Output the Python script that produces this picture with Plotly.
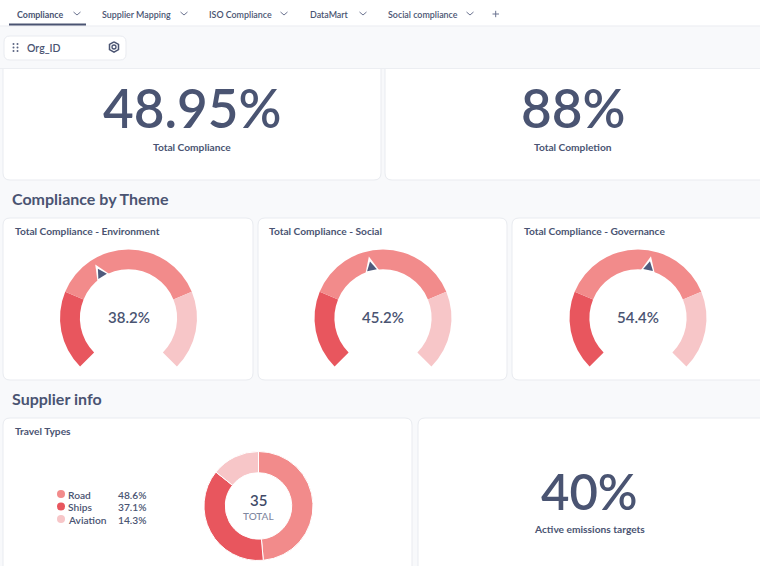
import math
import plotly.graph_objects as go

W, H = 760, 566
FONT = "Lato"
INK = "#4A5472"
DARK = "#E8565E"
MID = "#F28B8B"
LIGHT = "#F7C6C8"
BG = "#F8F9FB"

tabs = ["Compliance", "Supplier Mapping", "ISO Compliance", "DataMart", "Social compliance"]
kpi_values = ["48.95%", "88%"]
kpi_labels = ["Total Compliance", "Total Completion"]
gauge_titles = ["Total Compliance - Environment", "Total Compliance - Social", "Total Compliance - Governance"]
gauge_values = [38.2, 45.2, 54.4]
gauge_bands = [25, 50, 25]
travel_types = ["Road", "Ships", "Aviation"]
travel_shares = [48.6, 37.1, 14.3]
travel_total = 35
target_value = "40%"
target_label = "Active emissions targets"

fig = go.Figure()
shapes, ann = [], []


def card(x0, y0, x1, y1, r=7):
    path = (f"M{x0+r},{y0} L{x1-r},{y0} Q{x1},{y0} {x1},{y0+r} L{x1},{y1-r} Q{x1},{y1} {x1-r},{y1} "
            f"L{x0+r},{y1} Q{x0},{y1} {x0},{y1-r} L{x0},{y0+r} Q{x0},{y0} {x0+r},{y0} Z")
    shapes.append(dict(type="path", path=path, xref="x", yref="y", fillcolor="white",
                       line=dict(color="#E9EBF0", width=1), layer="below"))


def text(x, y, s, size, color=INK, anchor="left", weight=400):
    off = {"left": -2, "right": 2, "center": 0}[anchor]
    ann.append(dict(x=x + off, y=y, xref="x", yref="y", text=s, showarrow=False,
                    xanchor=anchor, yanchor="middle",
                    font=dict(family=FONT, size=size, color=color, weight=weight)))


def line(pts, color=INK, width=1.2):
    path = "M" + " L".join(f"{a},{b}" for a, b in pts)
    shapes.append(dict(type="path", path=path, xref="x", yref="y", line=dict(color=color, width=width), layer="above"))


def dom(cx, cy, r):
    return dict(x=[(cx - r) / W, (cx + r) / W], y=[1 - (cy + r) / H, 1 - (cy - r) / H])


# KPI cards (their tops are hidden by the filter strip)
card(3, 40, 381, 180)
card(385, 40, 790, 180)
shapes.append(dict(type="rect", x0=0, x1=W, y0=26, y1=68.5, xref="x", yref="y", fillcolor=BG, line=dict(width=0), layer="below"))
shapes.append(dict(type="line", x0=0, x1=W, y0=68.5, y1=68.5, xref="x", yref="y", line=dict(color="#ECEEF2", width=1), layer="below"))

# top bar
shapes.append(dict(type="rect", x0=0, x1=W, y0=0, y1=25.5, xref="x", yref="y", fillcolor="white",
                   line=dict(width=0), layer="below"))
shapes.append(dict(type="line", x0=0, x1=W, y0=26, y1=26, xref="x", yref="y", line=dict(color="#ECEEF2", width=1), layer="below"))
shapes.append(dict(type="line", x0=9, x1=86, y0=24.5, y1=24.5, xref="x", yref="y", line=dict(color=INK, width=2)))
tab_x = [17, 102, 209, 310, 388]
chev_x = [77, 184, 284, 363, 470]
for i, (t, tx, cx) in enumerate(zip(tabs, tab_x, chev_x)):
    text(tx, 14.5, t, 8.9, INK, weight=700 if i == 0 else 600)
    line([(cx - 3.5, 12), (cx, 15), (cx + 3.5, 12)], "#6B7390", 1)
line([(492.5, 14), (499, 14)], "#6B7390", 1)
line([(495.7, 10.8), (495.7, 17.2)], "#6B7390", 1)

# filter pill
card(4, 36, 126, 60, 6)
for dx in (13.5, 17.5):
    for dy in (44, 47.5, 51):
        shapes.append(dict(type="circle", x0=dx - 1, x1=dx + 1, y0=dy - 1, y1=dy + 1, xref="x", yref="y",
                           fillcolor="#5A6482", line=dict(width=0)))
text(27, 47.5, "Org_ID", 10.5, weight=600)
hexpts = [(114 + 5.2 * math.sin(math.radians(a)), 47 - 5.2 * math.cos(math.radians(a))) for a in range(0, 361, 60)]
line(hexpts, INK, 1.5)
shapes.append(dict(type="circle", x0=112, x1=116, y0=45, y1=49, xref="x", yref="y", line=dict(color=INK, width=1.3)))

# KPI text
text(191.5, 107, kpi_values[0], 53, INK, "center", 600)
text(191.5, 147, kpi_labels[0], 10.2, INK, "center", 700)
text(573, 107, kpi_values[1], 53, INK, "center", 600)
text(573, 147, kpi_labels[1], 10.2, INK, "center", 700)

# theme section
text(12, 198.5, "Compliance by Theme", 16, INK, weight=700)
for x0, x1 in ((3, 253), (258, 507), (512, 790)):
    card(x0, 218, x1, 380)
gauge_cx = [128.5, 383, 638]
gauge_tx = [15, 269, 524]
GY, GR = 318, 68.5


def wedge(cx, ang, rt, rb, hw, fill):
    ux, uy = math.sin(ang), -math.cos(ang)
    px, py = -uy, ux
    tip = (cx + ux * rt, GY + uy * rt)
    a = (cx + ux * rb + px * hw, GY + uy * rb + py * hw)
    b = (cx + ux * rb - px * hw, GY + uy * rb - py * hw)
    shapes.append(dict(type="path", xref="x", yref="y", fillcolor=fill, line=dict(width=0), layer="above",
                       path=f"M{tip[0]},{tip[1]} L{a[0]},{a[1]} L{b[0]},{b[1]} Z"))


for title, val, cx, tx in zip(gauge_titles, gauge_values, gauge_cx, gauge_tx):
    text(tx, 231, title, 10.2, INK, weight=700)
    gap = sum(gauge_bands) / 3
    fig.add_trace(go.Pie(values=gauge_bands + [gap], sort=False, direction="clockwise", rotation=-135,
                         hole=0.71, textinfo="none", hoverinfo="skip", showlegend=False,
                         marker=dict(colors=[DARK, MID, LIGHT, "rgba(0,0,0,0)"], line=dict(width=0)),
                         domain=dom(cx, GY, GR)))
    text(cx, 316.5, f"{val}%", 15, INK, "center", 600)
    # pointer placed from the gauge value
    ang = math.radians(-135 + 270 * val / 100)
    wedge(cx, ang, 63, 47.5, 7, "white")
    wedge(cx, ang, 58, 49, 5, "#4F5A7C")

# supplier section
text(12, 398.5, "Supplier info", 16, INK, weight=700)
card(3, 418, 412, 600)
card(418, 418, 790, 600)
text(15, 431, "Travel Types", 10.2, INK, weight=700)
fig.add_trace(go.Pie(values=travel_shares, labels=travel_types, sort=False, direction="clockwise", rotation=0,
                     hole=0.61, textinfo="none", hoverinfo="skip", showlegend=False,
                     marker=dict(colors=[MID, DARK, LIGHT], line=dict(color="white", width=1)),
                     domain=dom(258.5, 506, 54.5)))
text(258.5, 499.5, str(travel_total), 15, "#3F4A68", "center", 600)
text(258.5, 516, "TOTAL", 10, "#7F88A0", "center", 500)
for name, share, yy, col in zip(travel_types, travel_shares, (494, 506.5, 519), (MID, DARK, LIGHT)):
    shapes.append(dict(type="circle", x0=57, x1=65, y0=yy - 4, y1=yy + 4, xref="x", yref="y", fillcolor=col, line=dict(width=0)))
    text(67.5, yy + 0.5, name, 10.2, INK, weight=600)
    text(146, yy + 0.5, f"{share}%", 10.2, INK, "right", 600)
text(589, 491, target_value, 49, INK, "center", 600)
text(589, 529, target_label, 10.2, INK, "center", 700)

fig.update_layout(
    width=W, height=H, margin=dict(l=0, r=0, t=0, b=0), paper_bgcolor=BG, plot_bgcolor=BG,
    shapes=shapes, annotations=ann, showlegend=False,
    xaxis=dict(range=[0, W], visible=False, fixedrange=True),
    yaxis=dict(range=[H, 0], visible=False, fixedrange=True),
)
fig.write_html("out.html", config=dict(displayModeBar=False),
               post_script="document.body.style.margin='0';document.body.style.overflow='hidden';")
